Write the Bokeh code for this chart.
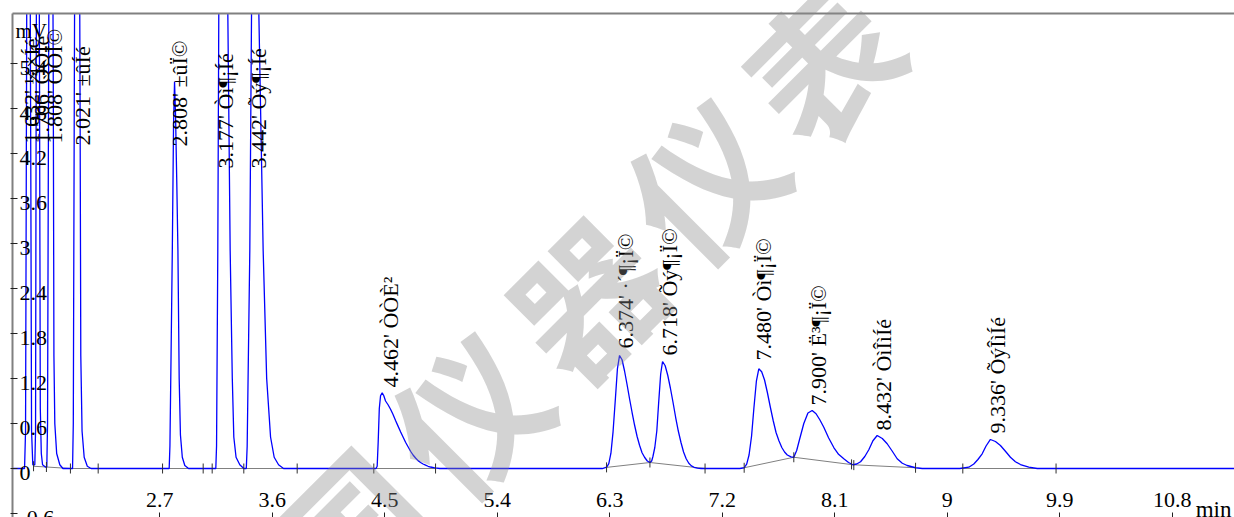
import numpy as np
from bokeh.plotting import figure
from bokeh.models import Range1d, LinearAxis, FixedTicker, Label
from bokeh.core.properties import value
from bokeh.embed import file_html
from bokeh.resources import INLINE

# ---------------- data ----------------
x_ticks = [2.7, 3.6, 4.5, 5.4, 6.3, 7.2, 8.1, 9.0, 9.9, 10.8]
x_tick_labels = ["2.7", "3.6", "4.5", "5.4", "6.3", "7.2", "8.1", "9", "9.9", "10.8"]
y_ticks = [-0.6, 0.0, 0.6, 1.2, 1.8, 2.4, 3.0, 3.6, 4.2, 4.8, 5.4]
y_tick_labels = ["-0.6", "0", "0.6", "1.2", "1.8", "2.4", "3", "3.6", "4.2", "4.8", "5.4"]

# chromatogram trace (min, mV)
trace_t = [
    1.500, 1.618, 1.626, 1.632, 1.648, 1.668, 1.674, 1.684,
    1.700, 1.706, 1.711, 1.724, 1.738, 1.744, 1.752, 1.762, 1.785,
    1.796, 1.802, 1.810, 1.828, 1.848, 1.853, 1.860, 1.875, 1.900, 1.925,
    2.002, 2.008, 2.016, 2.038, 2.062, 2.068, 2.078, 2.095, 2.120, 2.150,
    2.775, 2.781, 2.790, 2.800, 2.810, 2.818, 2.826, 2.836, 2.845, 2.855, 2.865, 2.880, 2.900, 2.930,
    3.148, 3.154, 3.164, 3.172, 3.205, 3.244, 3.263, 3.280, 3.292, 3.310, 3.340, 3.372,
    3.392, 3.399, 3.420, 3.434, 3.462, 3.492, 3.527, 3.555, 3.586, 3.615, 3.650, 3.690,
    4.430, 4.439, 4.447, 4.456, 4.466, 4.479, 4.492, 4.506, 4.526, 4.546, 4.566, 4.586,
    4.606, 4.626, 4.646, 4.666, 4.686, 4.706, 4.726, 4.746, 4.766, 4.786, 4.806, 4.826,
    4.846, 4.866, 4.900, 4.940,
    6.240, 6.275, 6.292, 6.309, 6.326, 6.344, 6.361, 6.378, 6.398, 6.418, 6.438, 6.458,
    6.478, 6.498, 6.518, 6.538, 6.558, 6.578, 6.600, 6.621, 6.635, 6.645, 6.660, 6.676,
    6.691, 6.707, 6.722, 6.743, 6.764, 6.785, 6.806, 6.827, 6.848, 6.869, 6.890, 6.911,
    6.932, 6.953, 6.974, 7.000, 7.030,
    7.340, 7.375, 7.395, 7.414, 7.434, 7.453, 7.473, 7.492, 7.515, 7.538, 7.561, 7.584,
    7.607, 7.630, 7.653, 7.676, 7.698, 7.720, 7.750, 7.772,
    7.795, 7.820, 7.852, 7.885, 7.919, 7.950, 7.980, 8.012, 8.050, 8.092, 8.130, 8.172,
    8.210, 8.245,
    8.275, 8.306, 8.340, 8.372, 8.405, 8.439, 8.480, 8.519, 8.560, 8.599, 8.640, 8.679,
    8.746, 8.800,
    9.100, 9.172, 9.212, 9.245, 9.279, 9.310, 9.345, 9.385, 9.425, 9.465, 9.505, 9.545,
    9.585, 9.652, 9.720,
    11.350,
]
trace_mv = [
    0.0, 0.0, 0.5, 4.0, 14.0, 4.0, 0.5, 0.05,
    0.05, 0.5, 5.0, 14.0, 5.0, 0.8, 0.2, 0.05, 0.02,
    0.02, 0.6, 5.0, 14.0, 5.0, 1.5, 0.6, 0.2, 0.05, 0.0,
    0.0, 0.6, 5.0, 16.0, 5.0, 1.5, 0.5, 0.15, 0.03, 0.0,
    0.0, 0.3, 1.5, 2.9, 4.6, 5.16, 4.7, 3.8, 2.9, 1.2, 0.45, 0.15, 0.04, 0.0,
    0.0, 0.3, 2.9, 6.1, 14.0, 6.1, 2.9, 1.2, 0.42, 0.15, 0.05, 0.0,
    0.0, 0.3, 2.9, 6.1, 16.0, 6.1, 2.9, 1.2, 0.42, 0.15, 0.05, 0.0,
    0.0, 0.03, 0.35, 0.8, 0.97, 1.01, 0.97, 0.9, 0.85, 0.79, 0.72, 0.64,
    0.565, 0.49, 0.42, 0.35, 0.29, 0.23, 0.18, 0.14, 0.105, 0.08, 0.06, 0.045,
    0.03, 0.02, 0.008, 0.0,
    0.0, 0.017, 0.066, 0.204, 0.489, 0.914, 1.33, 1.507, 1.45, 1.30, 1.12, 0.93,
    0.75, 0.58, 0.43, 0.31, 0.21, 0.15, 0.10, 0.08, 0.10, 0.16, 0.28, 0.50,
    0.88, 1.26, 1.427, 1.37, 1.24, 1.07, 0.88, 0.68, 0.50, 0.35, 0.22, 0.13,
    0.07, 0.035, 0.016, 0.005, 0.0,
    0.0, 0.01, 0.058, 0.18, 0.43, 0.81, 1.17, 1.33, 1.29, 1.18, 1.01, 0.82,
    0.64, 0.48, 0.37, 0.28, 0.22, 0.18, 0.155, 0.15,
    0.24, 0.40, 0.60, 0.74, 0.773, 0.73, 0.65, 0.55, 0.41, 0.28, 0.19, 0.13,
    0.08, 0.05,
    0.06, 0.09, 0.16, 0.25, 0.37, 0.44, 0.40, 0.33, 0.23, 0.13, 0.07, 0.04,
    0.01, 0.0,
    0.0, 0.017, 0.06, 0.12, 0.196, 0.30, 0.387, 0.36, 0.307, 0.23, 0.15, 0.09,
    0.053, 0.017, 0.0,
    0.0,
]

# integration baselines
base_t = [[1.690, 1.793, 1.985, 2.207], [2.722, 3.047], [3.119, 3.372, 3.799],
          [4.412, 4.906], [6.274, 6.621, 7.062], [7.375, 7.772, 8.245, 8.746],
          [9.124, 9.870]]
base_mv = [[0.03, 0.02, 0.0, 0.0], [0.0, 0.0], [0.0, 0.0, 0.0],
           [0.0, 0.0], [0.015, 0.08, 0.0], [0.01, 0.15, 0.05, 0.01],
           [0.0, 0.0]]

# peak start / end marks
mark_t = [1.690, 1.793, 1.985, 2.207, 2.722, 3.047, 3.119, 3.372, 3.799, 4.412, 4.906,
          6.274, 6.621, 7.062, 7.375, 7.772, 8.234, 8.252, 8.746, 9.124, 9.870]
mark_mv = [0.03, 0.02, 0.0, 0.0, 0.0, 0.0, 0.0, 0.0, 0.0, 0.0, 0.0,
           0.015, 0.08, 0.0, 0.01, 0.15, 0.055, 0.045, 0.01, 0.0, 0.0]

# peak labels (text as shown) and their anchor
peak_labels = [
    "1.632' ¼×Íé", "1.706' ÒÒÍé", "1.808' ÒÒÏ©", "2.021' ±ûÍé", "2.808' ±ûÏ©",
    "3.177' Òì¶¡Íé", "3.442' Õý¶¡Íé", "4.462' ÒÒÈ²", "6.374' ·´¶¡Ï©",
    "6.718' Õý¶¡Ï©", "7.480' Òì¶¡Ï©", "7.900' Ë³¶¡Ï©", "8.432' ÒìÎìÍé",
    "9.336' ÕýÎìÍé",
]
label_t = [1.675, 1.754, 1.854, 2.078, 2.858, 3.226, 3.490, 4.546, 6.426,
           6.774, 7.526, 7.966, 8.490, 9.400]
label_mv = [4.333, 4.333, 4.333, 4.307, 4.293, 4.0, 4.0, 1.08, 1.60,
            1.507, 1.44, 0.84, 0.507, 0.467]

watermark_chars = ["国", "仪", "器", "仪", "表"]

# ---------------- plot ----------------
x_lo, x_hi = 1.5216, 11.2976
y_lo, y_hi = -0.6533, 6.0667
SERIF_NAME = "Liberation Serif"
SERIF = value(SERIF_NAME)

p = figure(width=1234, height=517, x_range=Range1d(x_lo, x_hi), y_range=Range1d(y_lo, y_hi),
           output_backend="svg", toolbar_location=None,
           x_axis_location=None, y_axis_location=None,
           min_border_left=12, min_border_right=0, min_border_top=13, min_border_bottom=0)
p.outline_line_color = None
p.background_fill_color = "white"
p.border_fill_color = "white"
p.xgrid.visible = False
p.ygrid.visible = False

yax = LinearAxis(ticker=FixedTicker(ticks=y_ticks), axis_line_color="#808080", axis_line_width=2,
                 major_tick_in=5, major_tick_out=2, major_tick_line_color="#202020",
                 minor_tick_line_color=None,
                 major_label_overrides={t: "" for t in y_ticks},
                 major_label_standoff=0)
p.add_layout(yax, "left")

top = LinearAxis(ticker=FixedTicker(ticks=[]), axis_line_color="#808080", axis_line_width=2,
                 major_tick_in=0, major_tick_out=0, minor_tick_line_color=None,
                 major_label_standoff=0)
p.add_layout(top, "above")

xax = LinearAxis(ticker=FixedTicker(ticks=x_ticks), axis_line_color=None,
                 major_tick_in=5, major_tick_out=0, major_tick_line_color="#202020",
                 minor_tick_line_color=None,
                 major_label_overrides={t: l for t, l in zip(x_ticks, x_tick_labels)},
                 major_label_standoff=-25, major_label_text_font=SERIF_NAME,
                 major_label_text_font_size="22px", major_label_text_color="black")
p.add_layout(xax, "below")

p.multi_line(base_t, base_mv, line_color="#808080", line_width=1)
p.line(trace_t, trace_mv, line_color="#0000ff", line_width=1.3)
p.scatter(mark_t, mark_mv, marker="dash", angle=np.pi / 2, size=10,
          line_color="#303030", line_width=1)

# y tick labels, drawn inside the frame, left aligned
p.text(x=[x_lo] * len(y_ticks), y=y_ticks, text=y_tick_labels, x_offset=7, y_offset=-3,
       text_align="left", text_baseline="top", text_font=SERIF, text_font_size="22px",
       text_color="black")

# peak labels
p.text(x=label_t, y=label_mv, text=peak_labels, angle=np.pi / 2, text_align="left",
       text_baseline="middle", text_font=SERIF, text_font_size="22px", text_color="black")

p.add_layout(Label(x=x_lo, y=y_hi, text="mV", x_offset=3, y_offset=-5, text_baseline="top",
                   text_font=SERIF_NAME, text_font_size="21px", text_color="black"))
p.add_layout(Label(x=x_hi, y=y_lo, text="min", x_offset=-3, y_offset=8, text_align="right",
                   text_baseline="alphabetic", text_font=SERIF_NAME, text_font_size="23px",
                   text_color="black"))

# watermark
k = np.arange(len(watermark_chars)) - 2
p.text(x=[6.082] * len(watermark_chars), y=[2.32] * len(watermark_chars), text=watermark_chars,
       x_offset=k * 118, y_offset=-k * 117, angle=np.pi / 4, text_align="center",
       text_baseline="middle", text_font=value("Noto Sans CJK SC"), text_font_style="bold",
       text_font_size="148px", text_color="#8c8c8c", text_alpha=0.38, level="overlay")

with open("out.html", "w", encoding="utf-8") as f:
    f.write(file_html(p, INLINE))
